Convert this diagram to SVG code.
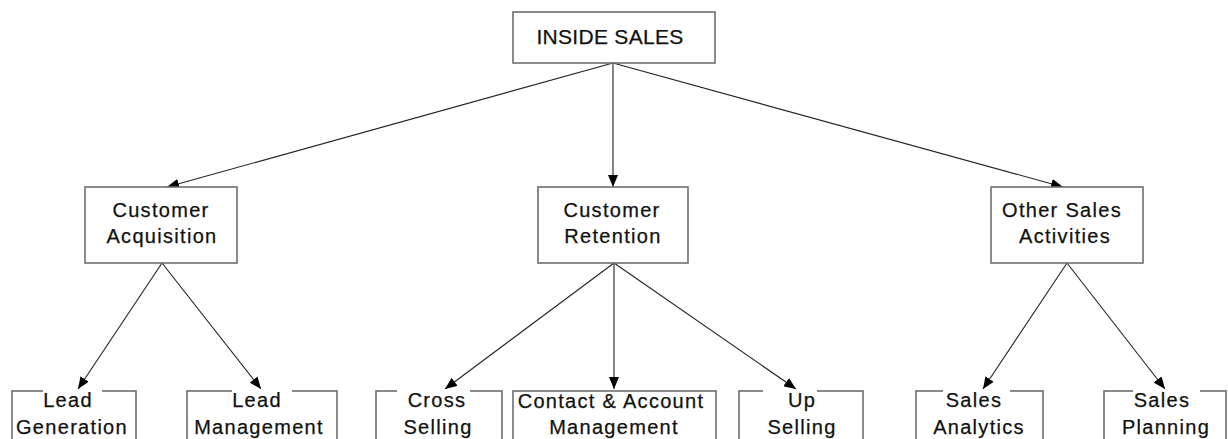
<svg xmlns="http://www.w3.org/2000/svg" width="1228" height="439" viewBox="0 0 1228 439">
  <defs>
    <marker id="arrow" viewBox="0 0 12 10" refX="12" refY="5" markerWidth="12" markerHeight="10" markerUnits="userSpaceOnUse" orient="auto">
      <path d="M0,0 L12,5 L0,10 Z" fill="#000"/>
    </marker>
    <style>
      .box { fill: #fff; stroke: #6e6e6e; stroke-width: 1.6; }
      .mask { fill: #fff; }
      .lbl { font-family: "Liberation Sans", Arial, sans-serif; font-size: 20px; letter-spacing: 1.3px; fill: #111; stroke: #111; stroke-width: 0.25; text-anchor: middle; }
      .top { font-size: 21px; letter-spacing: 0.3px; }
      .edge { stroke: #222; stroke-width: 1.1; fill: none; marker-end: url(#arrow); }
    </style>
  </defs>
  <rect width="1228" height="439" fill="#fff"/>

  <g id="connectors">
    <line class="edge" x1="613" y1="63" x2="167" y2="187"/>
    <line class="edge" x1="613" y1="63" x2="613" y2="187"/>
    <line class="edge" x1="613" y1="63" x2="1063" y2="187"/>
    <line class="edge" x1="162" y1="263" x2="78" y2="389"/>
    <line class="edge" x1="162" y1="263" x2="261" y2="389"/>
    <line class="edge" x1="614" y1="263" x2="445" y2="389"/>
    <line class="edge" x1="614" y1="263" x2="614" y2="389"/>
    <line class="edge" x1="614" y1="263" x2="796" y2="389"/>
    <line class="edge" x1="1067" y1="263" x2="983" y2="389"/>
    <line class="edge" x1="1067" y1="263" x2="1165" y2="389"/>
  </g>

  <g id="inside-sales">
    <rect class="box" x="513" y="12" width="202" height="51"/>
    <text class="lbl top" x="610" y="44">INSIDE SALES</text>
  </g>

  <g id="customer-acquisition">
    <rect class="box" x="85" y="187" width="152" height="76"/>
    <text class="lbl" x="161" y="217">Customer</text>
    <text class="lbl" x="162" y="243">Acquisition</text>
  </g>

  <g id="customer-retention">
    <rect class="box" x="538" y="187" width="150" height="76"/>
    <text class="lbl" x="612" y="217">Customer</text>
    <text class="lbl" x="613" y="243">Retention</text>
  </g>

  <g id="other-sales-activities">
    <rect class="box" x="991" y="187" width="152" height="76"/>
    <text class="lbl" x="1062" y="217">Other Sales</text>
    <text class="lbl" x="1065" y="243">Activities</text>
  </g>

  <g id="lead-generation">
    <rect class="box" x="12" y="391" width="124" height="60"/>
    <rect class="mask" x="43" y="389" width="59" height="8"/>
    <text class="lbl" x="68" y="407">Lead</text>
    <text class="lbl" x="72" y="434">Generation</text>
  </g>

  <g id="lead-management">
    <rect class="box" x="187" y="391" width="150" height="60"/>
    <rect class="mask" x="232" y="389" width="60" height="8"/>
    <text class="lbl" x="257" y="407">Lead</text>
    <text class="lbl" x="259" y="434">Management</text>
  </g>

  <g id="cross-selling">
    <rect class="box" x="376" y="391" width="126" height="60"/>
    <rect class="mask" x="397" y="389" width="73" height="8"/>
    <text class="lbl" x="437" y="407">Cross</text>
    <text class="lbl" x="438" y="434">Selling</text>
  </g>

  <g id="contact-account-management">
    <rect class="box" x="513" y="391" width="203" height="60"/>
    <text class="lbl" x="611" y="408">Contact &amp; Account</text>
    <text class="lbl" x="614" y="434">Management</text>
  </g>

  <g id="up-selling">
    <rect class="box" x="739" y="391" width="124" height="60"/>
    <rect class="mask" x="763" y="389" width="54" height="8"/>
    <text class="lbl" x="802" y="407">Up</text>
    <text class="lbl" x="802" y="434">Selling</text>
  </g>

  <g id="sales-analytics">
    <rect class="box" x="916" y="391" width="127" height="60"/>
    <rect class="mask" x="943" y="389" width="67" height="8"/>
    <text class="lbl" x="974" y="407">Sales</text>
    <text class="lbl" x="979" y="434">Analytics</text>
  </g>

  <g id="sales-planning">
    <rect class="box" x="1104" y="391" width="122" height="60"/>
    <rect class="mask" x="1133" y="389" width="67" height="8"/>
    <text class="lbl" x="1162" y="407">Sales</text>
    <text class="lbl" x="1166" y="434">Planning</text>
  </g>
</svg>
